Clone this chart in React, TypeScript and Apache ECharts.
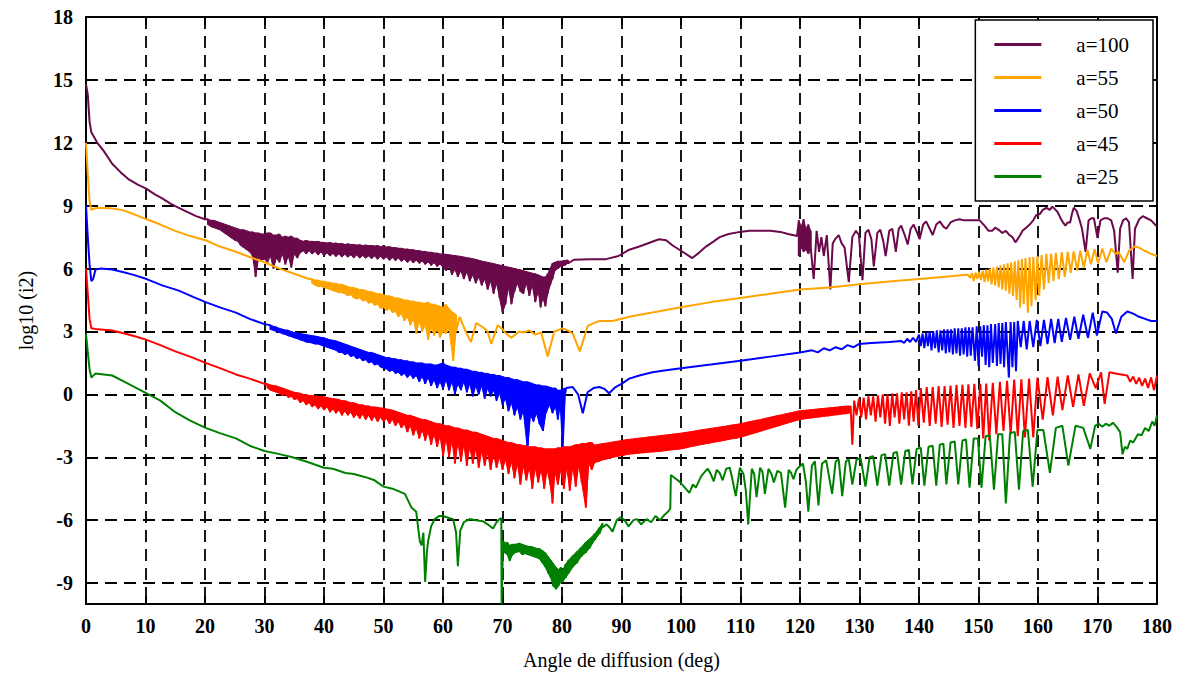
import React, { useEffect, useRef } from "react";
import * as echarts from "echarts";

// Legend names and colours
const seriesNames = ["a=100", "a=55", "a=50", "a=45", "a=25"];
const seriesColors = ["#6b0a4a", "#ffa500", "#0000ff", "#ff0000", "#008000"];

// Y tick values (axis spans -10 .. 18)
const yTickValues = [-9, -6, -3, 0, 3, 6, 9, 12, 15, 18];

// Points: [deg, value] or [deg, top, bottom] for densely oscillating stretches
const a100: number[][] = [
  [0, 14.8], [0.3, 14.3], [0.6, 13.0], [0.9, 12.5], [1.9, 12.0], [3, 11.6], [4.4, 11.0], [5.8, 10.6], [7.2, 10.25], [8.7, 10.0], [10.2, 9.8], [11.5, 9.55], [12.8, 9.35], [14.2, 9.1], [15.6, 8.9], [17, 8.7], [18.5, 8.5], [20, 8.35],
  [20.5, 8.35, 8.1], [21, 8.3, 8.0], [21.5, 8.3, 7.95], [22, 8.25, 7.9], [22.5, 8.2, 7.85], [23, 8.15, 7.75], [23.5, 8.1, 7.65], [24, 8.05, 7.55], [24.5, 8.0, 7.45], [25, 7.95, 7.35], [25.5, 7.9, 7.3], [26, 7.85, 7.1], [26.5, 7.85, 7.0], [27, 7.8, 6.9], [27.5, 7.75, 6.8], [28, 7.75, 6.6], [28.5, 7.7, 5.6], [29, 7.7, 6.5], [29.5, 7.65, 6.4], [30, 7.65, 6.45], [30.5, 7.7, 6.3], [31, 7.7, 6.6], [31.5, 7.6, 6.0], [32, 7.6, 6.5], [32.5, 7.65, 6.3], [33, 7.5, 6.7], [33.5, 7.55, 6.2], [34, 7.5, 6.6], [34.5, 7.55, 6.05], [35, 7.45, 6.7], [35.5, 7.45, 6.5],
  [36, 7.35, 6.75], [36.5, 7.3, 6.85], [37, 7.35, 6.7], [37.5, 7.3, 6.85], [38, 7.3, 6.7], [38.5, 7.28, 6.82], [39, 7.3, 6.65], [39.5, 7.25, 6.8], [40, 7.25, 6.6], [40.5, 7.22, 6.75], [41, 7.25, 6.6], [41.5, 7.2, 6.72], [42, 7.22, 6.58], [42.5, 7.18, 6.7], [43, 7.2, 6.55], [43.5, 7.15, 6.68], [44, 7.18, 6.55], [44.5, 7.15, 6.65], [45, 7.15, 6.52], [45.5, 7.12, 6.65], [46, 7.14, 6.5], [46.5, 7.1, 6.62], [47, 7.12, 6.5], [47.5, 7.1, 6.6], [48, 7.1, 6.48], [48.5, 7.08, 6.6], [49, 7.1, 6.45], [49.5, 7.05, 6.58], [50, 7.08, 6.45], [50.5, 7.03, 6.55], [51, 7.05, 6.4], [51.5, 7.0, 6.52], [52, 7.0, 6.38], [52.5, 6.97, 6.5], [53, 6.97, 6.35], [53.5, 6.93, 6.45], [54, 6.93, 6.3], [54.5, 6.9, 6.42], [55, 6.9, 6.28], [55.5, 6.86, 6.4], [56, 6.86, 6.25], [56.5, 6.82, 6.36], [57, 6.82, 6.2], [57.5, 6.78, 6.32], [58, 6.78, 6.15], [58.5, 6.74, 6.28], [59, 6.74, 6.1], [59.5, 6.7, 6.22], [60, 6.7, 6.05],
  [60.5, 6.68, 5.9], [61, 6.66, 6.1], [61.5, 6.64, 5.7], [62, 6.62, 5.95], [62.5, 6.6, 5.6], [63, 6.58, 5.9], [63.5, 6.55, 5.5], [64, 6.52, 5.85], [64.5, 6.5, 5.4], [65, 6.47, 5.7], [65.5, 6.44, 5.3], [66, 6.4, 5.6], [66.5, 6.36, 5.2], [67, 6.33, 5.5], [67.5, 6.3, 5.0], [68, 6.27, 5.4], [68.5, 6.24, 4.8], [69, 6.2, 5.3], [69.5, 6.17, 4.6], [70, 6.14, 3.9], [70.5, 6.1, 4.3], [71, 6.07, 5.1], [71.5, 6.04, 4.3], [72, 6.0, 4.9], [72.5, 5.97, 5.3], [73, 5.94, 4.9], [73.5, 5.9, 4.8], [74, 5.86, 5.3], [74.5, 5.82, 4.7], [75, 5.78, 5.2], [75.5, 5.75, 4.4], [76, 5.7, 4.9], [76.4, 5.65, 4.15], [76.8, 5.6, 4.6], [77.2, 5.6, 4.2], [77.6, 5.75, 4.8], [78, 6.0, 5.2], [78.4, 6.25, 5.5], [78.8, 6.3, 5.9], [79.3, 6.35, 6.0], [79.8, 6.35, 6.1], [80.4, 6.38, 6.15], [81, 6.4, 6.25],
  [82, 6.42], [84.6, 6.45], [87.4, 6.45], [89.5, 6.6], [91.3, 6.9], [93, 7.05], [96.3, 7.4], [97.5, 7.35], [98.6, 7.1], [100, 6.85], [101.9, 6.5], [103, 6.75], [104.2, 7.05], [105.5, 7.3], [106.5, 7.5], [108, 7.65], [109.9, 7.75], [111.5, 7.8], [113.3, 7.8], [115, 7.8], [116.7, 7.75], [118, 7.65], [119.5, 7.55],
  [119.8, 8.3, 6.6], [120.2, 8.0, 7.0], [120.6, 8.35, 6.8], [121, 7.9, 6.9], [121.4, 8.1, 6.7], [121.8, 7.8, 7.0],
  [122.3, 5.5], [122.8, 7.8], [123.2, 6.8], [123.6, 7.5], [124, 6.6], [124.5, 7.6], [125.1, 5.0], [125.5, 7.2], [125.9, 7.4], [126.5, 7.6], [127, 7.2], [127.5, 7.0], [128.2, 5.35], [128.8, 7.5], [129.4, 7.8], [129.9, 7.6], [130.5, 5.45], [131, 7.7], [131.5, 7.85], [132, 7.4], [132.4, 6.1], [133, 7.7], [133.5, 7.85], [134, 7.3], [134.4, 6.6], [135, 7.8], [135.5, 7.9], [135.9, 7.2], [136.1, 6.8], [136.6, 7.9], [137, 8.05], [137.6, 7.6], [138.1, 7.15], [138.6, 7.9], [139.1, 8.1], [139.7, 7.7], [140.1, 7.4], [140.7, 8.1], [141.2, 8.25], [141.8, 7.9], [142.3, 7.6], [142.9, 8.1], [143.5, 8.25], [144.1, 8.0], [144.6, 7.9], [145.3, 8.2], [146, 8.3], [146.8, 8.35], [147.6, 8.3], [148.5, 8.3], [149.3, 8.3], [150.2, 8.3], [151, 8.05], [151.7, 7.8], [152.3, 7.8], [152.8, 7.95], [153.4, 7.85], [154, 7.7], [154.6, 7.8], [155.2, 7.6], [155.7, 7.5], [156.2, 7.25], [156.8, 7.5], [157.4, 7.8], [158, 7.95], [158.6, 8.1], [159.2, 8.3], [159.7, 8.55], [160.3, 8.6], [160.8, 8.8], [161.4, 8.9], [162, 8.8], [162.4, 8.95], [162.8, 8.85], [163.3, 8.7], [163.7, 8.45], [164.2, 8.2], [164.6, 8.05], [165, 8.2], [165.4, 8.2], [165.7, 8.6], [166, 8.9], [166.5, 8.75], [167, 8.3], [167.4, 7.9], [168, 6.8], [168.5, 8.3], [169, 8.4], [169.4, 8.4], [170, 7.45], [170.5, 8.3], [171.1, 8.4], [171.7, 8.4], [172.3, 8.3], [172.8, 7.8], [173.4, 5.8], [173.8, 7.9], [174.3, 8.3], [174.8, 8.4], [175.3, 8.2], [175.9, 5.5], [176.3, 7.9], [177, 8.35], [177.6, 8.5], [178.3, 8.4], [179, 8.3], [179.5, 8.15], [180, 8.0],
];

const a55: number[][] = [
  [0, 12.0], [0.3, 10.5], [0.6, 9.2], [0.9, 8.8], [1.2, 8.85], [2.1, 8.9], [4, 8.88], [6, 8.8], [8, 8.6], [10.2, 8.35], [12.5, 8.1], [15, 7.8], [17.5, 7.55], [20.1, 7.35], [22.5, 7.05], [25.2, 6.8], [27.5, 6.55], [30, 6.3], [32.5, 6.0], [35, 5.75], [37.5, 5.5],
  [38, 5.5, 5.3], [38.5, 5.45, 5.2], [39, 5.45, 5.15], [39.5, 5.4, 5.15], [40, 5.4, 5.1], [40.5, 5.35, 5.05], [41, 5.35, 5.0], [41.5, 5.3, 4.95], [42, 5.3, 4.9], [42.5, 5.25, 4.85], [43, 5.25, 4.85], [43.5, 5.2, 4.8], [44, 5.15, 4.7], [44.5, 5.1, 4.75], [45, 5.1, 4.6], [45.5, 5.05, 4.55], [46, 5.0, 4.6], [46.5, 5.0, 4.45], [47, 4.95, 4.5], [47.5, 4.9, 4.35], [48, 4.9, 4.4], [48.5, 4.85, 4.25], [49, 4.8, 4.3], [49.5, 4.8, 4.1], [50, 4.75, 4.15], [50.5, 4.7, 4.0], [51, 4.7, 4.1], [51.5, 4.65, 3.9], [52, 4.6, 3.95], [52.5, 4.6, 3.7], [53, 4.55, 3.85], [53.5, 4.5, 3.5], [54, 4.5, 3.7], [54.5, 4.45, 3.3], [55, 4.45, 3.6], [55.5, 4.4, 2.9], [56, 4.4, 3.5], [56.5, 4.35, 3.0], [57, 4.35, 3.3], [57.5, 4.4, 2.6], [58, 4.3, 3.2], [58.5, 4.3, 2.8], [59, 4.25, 3.1], [59.5, 4.2, 2.7], [60, 4.15, 3.0], [60.5, 4.3, 2.9], [61, 4.1, 3.1], [61.7, 3.9, 1.6], [62.2, 3.8, 3.0],
  [62.8, 3.7], [63.8, 3.0], [64.7, 2.5], [65.6, 3.4], [66.7, 3.2], [67.5, 3.0], [68.1, 2.4], [69.2, 3.3], [70, 3.1], [70.6, 2.9], [71.5, 2.7], [72.8, 3.0], [73.5, 2.95], [74.5, 3.05], [75.5, 2.85], [76.5, 2.95], [77.6, 1.8], [78.7, 3.0], [80.1, 3.15], [81, 3.05], [81.8, 2.9], [83, 2.05], [84.3, 3.25], [85.3, 3.4], [86.3, 3.5], [88.5, 3.5], [91.3, 3.7], [95.2, 3.9], [100, 4.15], [105, 4.4], [110, 4.6], [115, 4.8], [120, 5.0], [125, 5.1], [130, 5.25], [135, 5.38], [140, 5.5], [144, 5.6], [148, 5.7],
  [148.2, 5.72], [148.6, 5.55], [148.9, 5.78], [149.2, 5.4], [149.5, 5.8], [149.8, 5.5], [150.1, 5.85], [150.4, 5.45], [150.7, 5.9], [151, 5.35], [151.3, 5.95], [151.6, 5.4], [151.9, 6.0], [152.2, 5.25], [152.5, 6.05], [152.8, 5.2], [153.1, 6.1], [153.4, 5.1], [153.7, 6.15], [154, 5.0], [154.3, 6.2], [154.6, 4.95], [154.9, 6.25], [155.2, 4.8], [155.5, 6.3], [155.8, 4.7], [156.1, 6.35], [156.4, 4.5], [156.7, 6.4], [157, 4.15], [157.3, 6.45], [157.6, 4.3], [157.9, 6.5], [158.3, 3.9], [158.6, 6.55], [158.9, 4.2], [159.2, 6.55], [159.6, 4.5], [159.9, 6.6], [160.2, 4.7], [160.6, 6.65], [161, 5.0], [161.4, 6.7], [161.8, 5.3], [162.2, 6.72], [162.6, 5.4], [163, 6.75], [163.5, 5.5], [164, 6.78], [164.5, 5.6], [165, 6.8], [165.5, 5.8], [166, 6.82], [166.6, 5.9], [167.1, 6.85], [167.7, 6.05], [168.3, 6.9], [168.9, 6.2], [169.5, 6.92], [170.1, 6.25], [170.8, 6.95], [171.5, 6.3], [172.3, 6.95], [173, 6.7], [173.5, 6.8], [174.5, 6.3], [175.3, 6.85], [176.2, 7.05], [177, 7.0], [177.9, 6.85], [179, 6.7], [180, 6.6],
];

const a50: number[][] = [
  [0, 9.0], [0.3, 7.5], [0.6, 6.2], [0.9, 5.4], [1.2, 5.5], [1.6, 5.95], [2.5, 6.0], [4.4, 5.95], [6, 5.85], [8, 5.7], [10.2, 5.5], [12.8, 5.2], [15.6, 4.95], [18, 4.65], [20.1, 4.4], [22.5, 4.15], [25.2, 3.9], [27.5, 3.6], [30, 3.35],
  [31, 3.3, 3.1], [32, 3.2, 3.0], [33, 3.1, 2.9], [34, 3.05, 2.8], [35, 2.95, 2.7], [36, 2.9, 2.6], [37, 2.85, 2.5], [38, 2.8, 2.45], [38.5, 2.78, 2.4], [39, 2.75, 2.4], [39.5, 2.72, 2.35], [40, 2.7, 2.3], [40.5, 2.65, 2.25], [41, 2.6, 2.2], [41.5, 2.58, 2.15], [42, 2.55, 2.1], [42.5, 2.5, 2.0], [43, 2.45, 2.0], [43.5, 2.4, 1.9], [44, 2.35, 1.95], [44.5, 2.3, 1.8], [45, 2.25, 1.85], [45.5, 2.2, 1.7], [46, 2.15, 1.75], [46.5, 2.1, 1.6], [47, 2.05, 1.65], [47.5, 2.0, 1.5], [48, 2.0, 1.55], [48.5, 1.95, 1.4], [49, 1.9, 1.45], [49.5, 1.85, 1.3], [50, 1.8, 1.25], [50.5, 1.75, 1.2], [51, 1.75, 1.1], [51.5, 1.7, 1.15], [52, 1.7, 1.0], [52.5, 1.65, 1.05], [53, 1.65, 0.9], [53.5, 1.6, 1.0], [54, 1.6, 0.8], [54.5, 1.55, 0.95], [55, 1.55, 0.75], [55.5, 1.5, 0.9], [56, 1.5, 0.6], [56.5, 1.5, 0.85], [57, 1.45, 0.5], [57.5, 1.45, 0.8], [58, 1.45, 0.4], [58.5, 1.4, 0.7], [59, 1.4, 0.3], [59.5, 1.45, 0.6], [60, 1.5, 0.25], [60.5, 1.4, 0.7], [61, 1.35, 0.2], [61.5, 1.3, 0.6], [62, 1.3, 0.0], [62.5, 1.25, 0.5], [63, 1.25, 0.2], [63.5, 1.2, 0.6], [64, 1.2, 0.1], [64.5, 1.15, 0.5], [65, 1.1, -0.1], [65.5, 1.1, 0.4], [66, 1.05, 0.0], [66.5, 1.05, 0.4], [67, 1.0, -0.2], [67.5, 1.0, 0.3], [68, 0.95, -0.1], [68.5, 0.95, 0.2], [69, 0.9, -0.3], [69.5, 0.9, 0.05], [70, 0.85, -0.5], [70.5, 0.8, -0.2], [71, 0.8, -0.8], [71.5, 0.75, -0.4], [72, 0.7, -1.0], [72.5, 0.7, -0.6], [73, 0.65, -1.2], [73.5, 0.6, -0.8], [74.2, 0.6, -2.65], [74.7, 0.55, -1.0], [75.2, 0.5, -1.3], [75.7, 0.45, -0.9], [76.2, 0.45, -1.4], [76.8, 0.4, -1.75], [77.3, 0.4, -0.9], [77.9, 0.35, -0.5], [78.4, 0.3, -0.9], [78.9, 0.3, -0.6], [79.3, 0.2, -1.2], [79.7, 0.2, -0.5], [80.1, 0.25, -2.6], [80.5, 0.3, 0.0],
  [80.7, 0.3], [81.8, 0.35], [82.7, 0.0], [83.5, -0.9], [84.3, 0.1], [85.3, 0.3], [86.3, 0.35], [87.2, 0.25], [87.9, 0.05], [89, 0.35], [90, 0.5], [91.3, 0.75], [93, 0.9], [95.2, 1.05], [97.5, 1.15], [100, 1.25], [105, 1.42], [110, 1.6], [115, 1.8], [120, 2.0], [122, 2.1], [123, 2.0], [124, 2.2], [125, 2.1], [126, 2.25], [127, 2.15], [128, 2.35], [129, 2.25], [129.9, 2.4], [132, 2.45], [135, 2.5], [137, 2.55], [137.5, 2.45], [138, 2.65], [138.5, 2.5], [139, 2.7], [139.5, 2.5],
  [140, 2.85], [140.3, 2.3], [140.6, 2.9], [140.9, 2.2], [141.2, 2.95], [141.5, 2.3], [141.8, 3.0], [142.1, 2.1], [142.4, 3.0], [142.7, 2.2], [143, 3.05], [143.3, 2.0], [143.6, 3.05], [143.9, 2.1], [144.2, 3.1], [144.5, 1.95], [144.8, 3.1], [145.1, 2.0], [145.4, 3.1], [145.7, 1.9], [146, 3.15], [146.3, 1.95], [146.6, 3.15], [146.9, 1.85], [147.2, 3.15], [147.5, 1.9], [147.8, 3.2], [148.1, 1.8], [148.4, 3.2], [148.7, 1.85], [149, 3.2], [149.4, 1.6], [149.7, 3.25], [150, 1.35], [150.3, 3.25], [150.6, 1.8], [150.9, 3.3], [151.2, 1.4], [151.5, 3.3], [151.8, 1.3], [152.1, 3.35], [152.4, 1.5], [152.8, 3.35], [153.1, 1.35], [153.4, 3.4], [153.7, 1.45], [154, 3.4], [154.3, 1.3], [154.6, 3.45], [155.1, 0.8], [155.4, 3.45], [155.7, 1.3], [156, 3.45], [156.3, 1.1], [156.6, 3.5],
  [157.1, 2.25], [157.6, 3.5], [158.1, 2.15], [158.6, 3.5], [159.2, 2.25], [159.8, 3.55], [160.4, 2.3], [161, 3.55], [161.6, 2.4], [162.2, 3.6], [162.8, 2.45], [163.4, 3.6], [164, 2.5], [164.7, 3.65], [165.4, 2.6], [166.1, 3.7], [166.8, 2.65], [167.6, 3.8], [168.4, 2.7], [169.2, 3.9], [169.9, 2.8], [170.8, 3.95], [171.6, 3.9], [172.4, 3.6], [173.1, 2.9], [174, 3.7], [175, 3.95], [176, 3.85], [177, 3.7], [178, 3.6], [179, 3.5], [180, 3.5],
];

const a45: number[][] = [
  [0, 6.0], [0.3, 4.8], [0.6, 3.6], [0.9, 3.15], [2, 3.1], [4.4, 3.05], [6.5, 2.9], [8.5, 2.75], [10.2, 2.6], [12.5, 2.35], [15, 2.05], [17.5, 1.8], [20.1, 1.5], [22.5, 1.25], [25.2, 0.95], [27.5, 0.75], [30, 0.5],
  [30.5, 0.5, 0.3], [31, 0.45, 0.2], [31.5, 0.42, 0.15], [32, 0.4, 0.1], [32.5, 0.35, 0.05], [33, 0.3, -0.05], [33.5, 0.25, 0.0], [34, 0.2, -0.15], [34.5, 0.15, -0.1], [35, 0.1, -0.25], [35.5, 0.08, -0.2], [36, 0.05, -0.4], [36.5, 0.0, -0.3], [37, -0.02, -0.5], [37.5, -0.05, -0.4], [38, -0.05, -0.6], [38.5, -0.08, -0.5], [39, -0.1, -0.7], [39.5, -0.1, -0.55], [40, -0.12, -0.75], [40.5, -0.15, -0.6], [41, -0.18, -0.85], [41.5, -0.2, -0.7], [42, -0.22, -0.9], [42.5, -0.25, -0.75], [43, -0.3, -1.0], [43.5, -0.3, -0.8], [44, -0.35, -1.0], [44.5, -0.4, -0.85], [45, -0.4, -1.1], [45.5, -0.45, -0.95], [46, -0.5, -1.15], [46.5, -0.5, -0.95], [47, -0.55, -1.2], [47.5, -0.55, -1.0], [48, -0.6, -1.25], [48.5, -0.6, -1.05], [49, -0.62, -1.3], [49.5, -0.65, -1.1], [50, -0.65, -1.3], [50.5, -0.7, -1.15], [51, -0.72, -1.4], [51.5, -0.75, -1.2], [52, -0.8, -1.5], [52.5, -0.85, -1.3], [53, -0.9, -1.6], [53.5, -0.95, -1.4], [54, -1.0, -1.8], [54.5, -1.0, -1.5], [55, -1.05, -1.95], [55.5, -1.1, -1.6], [56, -1.15, -2.1], [56.5, -1.2, -1.7], [57, -1.2, -2.2], [57.5, -1.25, -1.8], [58, -1.3, -2.4], [58.5, -1.35, -1.9], [59, -1.4, -2.5], [59.5, -1.4, -2.0], [60, -1.45, -2.95], [60.5, -1.5, -2.1], [61, -1.5, -3.0], [61.5, -1.55, -2.2], [62, -1.6, -3.3], [62.5, -1.6, -2.3], [63, -1.65, -3.2], [63.5, -1.7, -2.4], [64, -1.7, -3.4], [64.5, -1.75, -2.5], [65, -1.8, -3.3], [65.5, -1.8, -2.6], [66, -1.85, -3.5], [66.5, -1.9, -2.7], [67, -1.95, -3.4], [67.5, -2.0, -2.8], [68, -2.05, -3.6], [68.5, -2.1, -2.9], [69, -2.1, -3.5], [69.5, -2.15, -3.0], [70, -2.2, -3.6], [70.5, -2.25, -3.1], [71, -2.3, -3.8], [71.5, -2.3, -3.2], [72, -2.35, -4.0], [72.5, -2.4, -3.3], [73, -2.4, -4.3], [73.5, -2.45, -3.4], [74, -2.45, -4.1], [74.5, -2.5, -3.5], [75, -2.5, -4.5], [75.5, -2.5, -3.5], [76, -2.55, -4.2], [76.5, -2.55, -3.6], [77, -2.6, -4.5], [77.5, -2.6, -3.6], [78, -2.6, -4.3], [78.4, -2.6, -5.2], [78.8, -2.6, -3.7], [79.3, -2.55, -4.3], [79.8, -2.55, -3.6], [80.3, -2.5, -4.5], [80.8, -2.5, -3.5], [81.3, -2.5, -4.6], [81.8, -2.45, -3.5], [82.3, -2.4, -4.4], [82.8, -2.4, -3.4], [83.3, -2.35, -4.2], [84, -2.35, -5.4], [84.5, -2.3, -3.3], [85, -2.3, -3.6],
  [85.5, -2.42, -3.25], [86.2, -2.38, -3.2], [86.9, -2.35, -3.12], [87.6, -2.32, -3.08], [88.3, -2.28, -3.02], [89, -2.25, -2.98], [89.7, -2.22, -2.94], [90.4, -2.18, -2.9], [91.1, -2.15, -2.86], [91.8, -2.13, -2.84], [92.5, -2.1, -2.82], [93.2, -2.08, -2.8], [93.9, -2.06, -2.78], [94.6, -2.03, -2.76], [95.3, -2.01, -2.75], [96, -1.99, -2.73], [96.7, -1.96, -2.71], [97.4, -1.94, -2.69], [98.1, -1.92, -2.66], [98.8, -1.89, -2.64], [99.5, -1.87, -2.62], [100.2, -1.84, -2.59], [100.9, -1.81, -2.55], [101.6, -1.78, -2.5], [102.3, -1.75, -2.46], [103, -1.71, -2.42], [103.7, -1.68, -2.38], [104.4, -1.65, -2.35], [105.1, -1.62, -2.31], [105.8, -1.59, -2.27], [106.5, -1.56, -2.24], [107.2, -1.53, -2.2], [107.9, -1.5, -2.16], [108.6, -1.46, -2.12], [109.3, -1.43, -2.09], [110, -1.4, -2.05], [110.7, -1.36, -1.99], [111.4, -1.31, -1.93], [112.1, -1.27, -1.87], [112.8, -1.23, -1.81], [113.5, -1.19, -1.75], [114.2, -1.14, -1.69], [114.9, -1.1, -1.63], [115.6, -1.05, -1.57], [116.3, -1.01, -1.51], [117, -0.97, -1.45], [117.7, -0.92, -1.39], [118.4, -0.88, -1.33], [119.1, -0.84, -1.27], [119.8, -0.79, -1.22], [120.5, -0.77, -1.18], [121.2, -0.75, -1.15], [121.9, -0.73, -1.13], [122.6, -0.71, -1.1], [123.3, -0.69, -1.08], [124, -0.67, -1.05], [124.7, -0.65, -1.03], [125.4, -0.63, -1.0], [126.1, -0.61, -0.98], [126.8, -0.59, -0.95], [127.5, -0.57, -0.93], [128.2, -0.55, -0.9],
  [128.5, -0.55], [128.8, -2.4], [129.1, -0.3], [129.5, -1.0], [129.9, -0.2], [130.3, -1.1], [130.7, -0.15], [131.1, -1.2], [131.5, -0.1], [131.9, -1.0], [132.3, -0.1], [132.7, -1.3], [133.1, -0.05], [133.5, -1.1], [133.9, 0.0], [134.3, -1.4], [134.7, 0.0], [135.1, -1.5], [135.5, 0.05], [135.9, -1.1], [136.3, 0.05], [136.7, -1.4], [137.1, 0.1], [137.5, -1.2], [137.9, 0.1], [138.3, -1.5], [138.7, 0.15], [139.1, -1.3], [139.5, 0.2], [139.9, -1.5], [140.3, 0.3], [140.8, -1.35], [141.3, 0.35], [141.8, -1.5], [142.3, 0.35], [142.8, -1.4], [143.3, 0.4], [143.8, -1.55], [144.3, 0.4], [144.8, -1.45], [145.3, 0.42], [145.8, -1.6], [146.3, 0.45], [146.8, -1.5], [147.3, 0.45], [147.8, -1.6], [148.3, 0.48], [148.8, -1.55], [149.3, 0.5], [149.8, -1.65], [150.3, 0.5], [150.8, -2.1], [151.3, 0.52], [151.8, -2.2], [152.4, 0.55], [153, -1.9], [153.6, 0.6], [154.2, -1.75], [154.8, 0.65], [155.4, -1.9], [156, 0.7], [156.6, -2.0], [157.2, 0.72], [157.8, -2.05], [158.5, 0.75], [159.2, -2.05], [159.9, 0.8], [160.8, -1.2], [161.6, 0.82], [162.5, -1.0], [163.3, 0.85], [164.1, -0.75], [165, 0.9], [165.9, -0.6], [166.8, 0.95], [167.7, -0.55], [168.7, 1.0], [169.7, 0.3], [170.6, 1.05], [171.2, -0.45], [172, 1.05], [173, 1.0], [174, 0.95], [175, 0.9], [175.5, 0.6], [176, 0.85], [176.5, 0.5], [177, 0.8], [177.5, 0.4], [178, 0.75], [178.5, 0.3], [179, 0.8], [179.5, 0.2], [180, 0.9],
];

const a25: number[][] = [
  [0, 2.9], [0.3, 2.0], [0.6, 1.2], [0.9, 0.8], [1.6, 1.0], [4.4, 0.9], [6.5, 0.6], [8.5, 0.3], [10.2, 0.05], [12.5, -0.3], [15, -0.85], [17.5, -1.25], [20.1, -1.6], [22.5, -1.85], [25.2, -2.1], [27.5, -2.45], [30, -2.7], [32.5, -2.85], [34.7, -3.0], [37, -3.2], [40, -3.5], [41.5, -3.55], [43.6, -3.75], [45, -3.8], [47, -3.95], [48.5, -4.1], [50, -4.4], [51.5, -4.5], [53.6, -4.75], [54.7, -5.4], [55.5, -5.6], [56.1, -7.0], [56.4, -7.2], [56.7, -6.6], [57, -8.95], [57.3, -7.5], [57.5, -7.0], [58, -6.3], [58.6, -5.95], [59.4, -5.8], [60, -5.8], [61, -5.9], [61.7, -5.95], [62.2, -6.6], [62.5, -8.2], [62.9, -6.5], [63.5, -6.1], [64.5, -5.95], [65.5, -6.0], [66.7, -6.05], [67.5, -6.2], [68.4, -6.4], [69, -6.1], [69.5, -5.95], [69.8, -5.9], [69.85, -10], [70.1, -7.0],
  [70.3, -7.1, -7.55], [70.8, -7.05, -7.65], [71.2, -7.2, -7.95], [71.7, -7.15, -7.65], [72.2, -7.15, -7.55], [72.8, -7.1, -7.5], [73.3, -7.15, -7.65], [73.8, -7.2, -7.6], [74.3, -7.25, -7.65], [74.8, -7.25, -7.7], [75.3, -7.3, -7.75], [75.8, -7.35, -7.8], [76.2, -7.35, -7.85], [76.7, -7.45, -8.05], [77.2, -7.55, -8.25], [77.7, -7.75, -8.55], [78.1, -7.9, -8.75], [78.5, -8.05, -9.15], [79, -8.25, -9.3], [79.4, -8.35, -9.15], [79.8, -8.25, -8.95], [80.1, -8.4, -8.95], [80.6, -8.1, -8.75], [81.1, -7.9, -8.55], [81.8, -7.7, -8.25], [82.5, -7.5, -8.05], [83.2, -7.3, -7.75], [84, -7.05, -7.55], [84.6, -6.9, -7.35], [85.5, -6.65, -6.95], [86.3, -6.35, -6.65], [86.8, -6.15, -6.35],
  [87.5, -6.2], [88, -6.35], [88.5, -6.55], [89.2, -6.0], [89.9, -5.85], [90.5, -6.0], [91.2, -6.3], [92, -6.0], [92.6, -5.95], [93.3, -6.2], [94.2, -5.95], [95, -6.1], [95.7, -5.8], [96.5, -6.0], [97.2, -5.75], [97.8, -5.6], [98.2, -5.45], [98.3, -3.85], [99, -4.0], [99.7, -4.15], [100.5, -4.4], [101.4, -4.7], [102, -4.3], [102.5, -4.45], [103.4, -3.9], [104, -3.7], [104.5, -3.55], [105, -3.8], [105.5, -4.15], [106, -3.6], [106.5, -3.75], [107, -4.1], [107.6, -3.55], [108.2, -3.5], [108.6, -4.0], [109.2, -4.85], [109.9, -3.5], [110.5, -3.8], [110.9, -4.6], [111.3, -6.2], [111.9, -3.55], [112.3, -3.8], [112.7, -4.9], [113.3, -3.5], [113.7, -3.7], [114.1, -4.75], [114.7, -3.55], [115.2, -3.8], [115.6, -4.2], [116.2, -3.65], [116.8, -3.75], [117.5, -5.4], [118.1, -3.6], [118.5, -3.75], [118.9, -4.05], [119.4, -3.6], [119.7, -3.5], [120.1, -3.4], [120.5, -3.3], [121, -4.2], [121.4, -5.6],
  [122, -3.4], [122.5, -3.2], [123.1, -5.3], [123.7, -3.3], [124.4, -3.15], [125.4, -4.75], [126, -3.2], [126.5, -3.1], [127.1, -4.85], [127.7, -3.2], [128.2, -3.1], [128.8, -4.3], [129.5, -3.1], [130.2, -3.05], [131, -4.4], [131.7, -3.0], [132.3, -2.95], [133, -4.35], [133.7, -2.9], [134.3, -2.85], [135, -4.35], [135.7, -2.8], [136.3, -2.75], [137, -4.3], [137.7, -2.7], [138.3, -2.65], [138.9, -4.3], [139.6, -2.6], [140.3, -2.55], [140.9, -4.35], [141.6, -2.5], [142.3, -2.45], [142.9, -4.35], [143.5, -2.4], [144.1, -2.35], [144.6, -4.3], [145.3, -2.3], [146, -2.25], [146.6, -4.3], [147.3, -2.2], [147.9, -2.15], [148.5, -4.45], [149.2, -2.1], [149.9, -2.1], [150.5, -4.45], [151.2, -2.0], [151.9, -1.95], [152.6, -4.55], [153.3, -1.9], [154, -1.9], [154.6, -5.2], [155.3, -1.85], [156.1, -1.8], [156.8, -4.55], [157.5, -1.75], [158.3, -1.7], [159.1, -4.4], [159.9, -1.7], [160.9, -1.7], [162, -3.75], [163, -1.6], [164.1, -1.5], [165.1, -3.4], [166.3, -1.5], [167.6, -1.6], [168.8, -2.6], [169.6, -1.5], [170.2, -1.4], [170.8, -1.55], [171.4, -1.4], [172, -1.5], [172.6, -1.35], [173.2, -1.55], [173.8, -1.8], [174.2, -2.85], [174.6, -2.5], [175, -2.6], [175.5, -2.2], [176, -2.3], [176.8, -1.9], [177.4, -1.95], [178, -1.6], [178.6, -1.75], [179.2, -1.3], [179.6, -1.5], [180, -1.0],
];

const seriesData = [a100, a55, a50, a45, a25];

// [x, top, bottom] entries become two consecutive points at that angle
function expand(raw: number[][]): number[][] {
  const out: number[][] = [];
  for (const p of raw) {
    if (p.length === 3) {
      out.push([p[0], p[1]], [p[0], p[2]]);
    } else {
      out.push([p[0], p[1]]);
    }
  }
  return out;
}

// contiguous runs of [x, top, bottom] entries (the dense, filled-looking stretches)
function bandRuns(raw: number[][]): number[][][] {
  const runs: number[][][] = [];
  let cur: number[][] = [];
  for (const p of raw) {
    if (p.length === 3) {
      cur.push(p);
    } else if (cur.length) {
      runs.push(cur);
      cur = [];
    }
  }
  if (cur.length) runs.push(cur);
  return runs.filter((r) => r.length > 1);
}

const FONT = "'Liberation Serif', 'Times New Roman', serif";

export default function App() {
  const ref = useRef<HTMLDivElement>(null);

  useEffect(() => {
    if (!ref.current) return;
    const chart = echarts.init(ref.current, undefined, { renderer: "svg" });
    const axisLine = { show: true, onZero: false, lineStyle: { color: "#000", width: 2 } };
    const tickStyle = { color: "#000", width: 2 };
    const dashed = { show: true, lineStyle: { color: "#000", width: 1.8, type: [12, 7] as any } };

    const lineSeries = seriesNames.map((name, i) => ({
      name,
      type: "line",
      xAxisIndex: 0,
      yAxisIndex: 0,
      data: expand(seriesData[i]),
      showSymbol: false,
      symbol: "none",
      clip: true,
      color: seriesColors[i],
      lineStyle: { color: seriesColors[i], width: 2 },
      z: 3 + i,
    }));

    const bandSeries = seriesNames.map((name, i) => {
      const runs = bandRuns(seriesData[i]);
      return {
        type: "custom",
        xAxisIndex: 0,
        yAxisIndex: 0,
        silent: true,
        clip: true,
        z: 3 + i,
        data: runs.map((_, k) => [k]),
        renderItem: (params: any, api: any) => {
          const run = runs[api.value(0)];
          const top = run.map((t) => api.coord([t[0], t[1]]));
          const bot = run.map((t) => api.coord([t[0], t[2]])).reverse();
          return {
            type: "polygon",
            shape: { points: top.concat(bot) },
            style: { fill: seriesColors[i], stroke: seriesColors[i], lineWidth: 1 },
          };
        },
      };
    });

    chart.setOption({
      animation: false,
      backgroundColor: "#ffffff",
      grid: { left: 86, right: 24, top: 17, bottom: 74 },
      legend: {
        data: seriesNames,
        orient: "vertical",
        right: 28,
        top: 20,
        backgroundColor: "#ffffff",
        borderColor: "#000",
        borderWidth: 1.5,
        borderRadius: 0,
        padding: [14, 24, 14, 19],
        itemGap: 12,
        itemWidth: 47,
        itemHeight: 3,
        icon: "rect",
        textStyle: { fontFamily: FONT, fontSize: 21, color: "#000", padding: [0, 0, 0, 30] },
      },
      xAxis: [
        {
          type: "value",
          min: 0,
          max: 180,
          interval: 10,
          name: "Angle de diffusion (deg)",
          nameLocation: "middle",
          nameGap: 46,
          nameTextStyle: { fontFamily: FONT, fontSize: 20, color: "#000" },
          axisLine,
          axisTick: { show: true, inside: true, length: 8, lineStyle: tickStyle },
          axisLabel: { fontFamily: FONT, fontSize: 20, fontWeight: "bold", color: "#000", margin: 12 },
          splitLine: dashed,
        },
        {
          type: "value",
          position: "top",
          min: 0,
          max: 180,
          interval: 10,
          axisLine,
          axisTick: { show: true, inside: true, length: 8, lineStyle: tickStyle },
          axisLabel: { show: false },
          splitLine: { show: false },
        },
      ],
      yAxis: [
        {
          type: "value",
          min: -10,
          max: 18,
          name: "log10 (i2)",
          nameLocation: "middle",
          nameGap: 50,
          nameRotate: 90,
          nameTextStyle: { fontFamily: FONT, fontSize: 20, color: "#000" },
          axisLine,
          axisTick: { show: true, inside: true, length: 8, lineStyle: tickStyle, customValues: yTickValues },
          axisLabel: { fontFamily: FONT, fontSize: 20, fontWeight: "bold", color: "#000", margin: 13, customValues: yTickValues },
          splitLine: dashed,
        },
        {
          type: "value",
          position: "right",
          min: -10,
          max: 18,
          axisLine,
          axisTick: { show: true, inside: true, length: 8, lineStyle: tickStyle, customValues: yTickValues },
          axisLabel: { show: false, customValues: yTickValues },
          splitLine: { show: false },
        },
      ],
      series: [...lineSeries, ...bandSeries],
    });

    return () => {
      chart.dispose();
    };
  }, []);

  return (
    <div
      ref={ref}
      style={{ position: "fixed", left: 0, top: 0, width: 1181, height: 678, background: "#fff" }}
    />
  );
}
